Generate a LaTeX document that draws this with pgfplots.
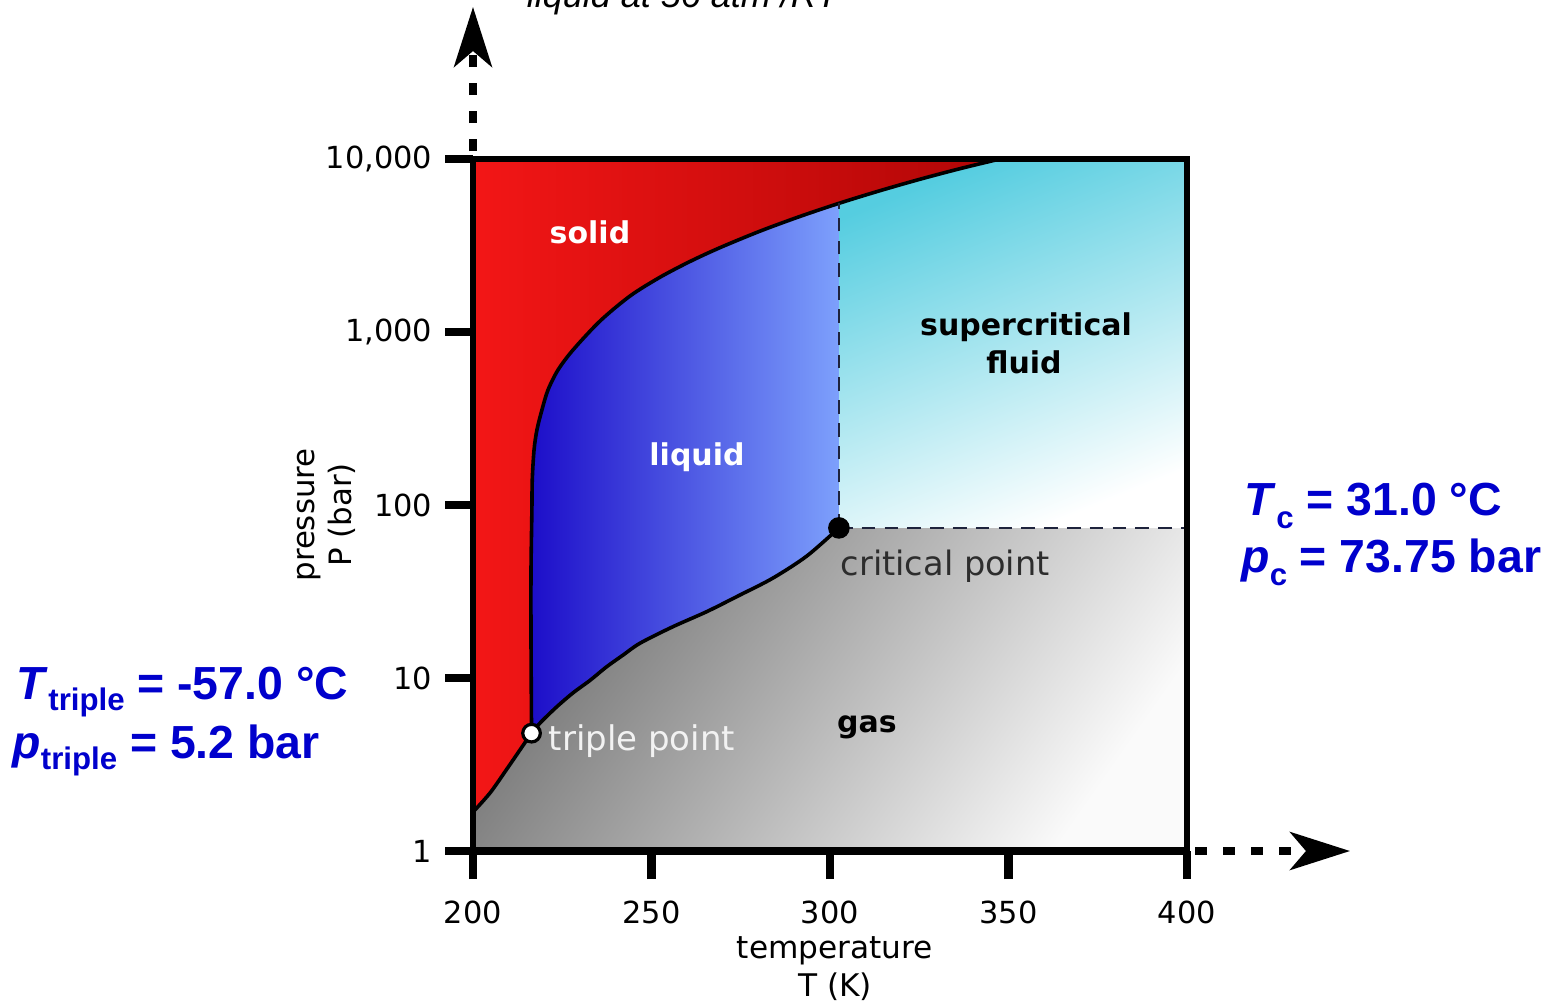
\documentclass[border=0pt]{standalone}
\usepackage{pgfplots}
\pgfplotsset{compat=1.18}
\usepackage{fontspec}
\setmainfont{DejaVu Sans}
\newfontfamily\arialfont{Liberation Sans}
\usetikzlibrary{arrows.meta}
\definecolor{solidL}{RGB}{243,22,22}
\definecolor{solidR}{RGB}{176,6,6}
\definecolor{liqL}{RGB}{26,10,200}
\definecolor{liqR}{RGB}{125,160,252}
\definecolor{scC}{RGB}{85,205,224}
\definecolor{gasD}{RGB}{115,115,115}
\definecolor{gasM}{RGB}{178,178,178}
\definecolor{gasL}{RGB}{250,250,250}
\definecolor{blueT}{RGB}{0,0,204}
\definecolor{dashC}{RGB}{30,35,60}
\definecolor{critC}{RGB}{45,45,45}
\definecolor{tripC}{RGB}{242,242,242}
\begin{document}
\begin{tikzpicture}
\path[use as bounding box] (-118.25pt,-37.5pt) rectangle (269.75pt,212.75pt);
\begin{axis}[at={(0pt,0pt)}, anchor=south west, scale only axis,
  width=178.5pt, height=173pt,
  xmin=200, xmax=400, ymode=log, ymin=1, ymax=10000,
  xtick={200,250,300,350,400}, xticklabels={200,250,300,350,400},
  ytick={1,10,100,1000,10000}, yticklabels={1,10,100,{1,000},{10,000}},
  yminorticks=false, xminorticks=false,
  tick pos=left, tick align=outside, major tick length=7pt,
  tick style={line width=2.2pt, black},
  axis line style={line width=1.3pt},
  axis on top,
  ticklabel style={font=\fontsize{7.6}{9}\selectfont, inner sep=0pt},
  xticklabel shift=5.25pt, yticklabel shift=3pt,
]
% gas
\addplot[draw=none, top color=gasD, middle color=gasM, bottom color=gasL, shading angle=55]
  coordinates {(200,1) (400,1) (400,73.75) (200,73.75)} -- cycle;
% supercritical fluid
\addplot[draw=none, top color=scC, middle color=scC!78!white, bottom color=white, shading angle=22]
  coordinates {(302.5,73.75) (400,73.75) (400,10000) (302.5,10000)} -- cycle;
% liquid
\addplot[draw=none, left color=liqL, right color=liqR]
  coordinates {(214,4.8) (216.4,4.8) (218.8,5.5) (223.4,6.8) (228.0,8.2) (232.8,9.7)
  (237.4,11.6) (242.1,13.6) (246.8,15.9) (256.0,19.8) (265.5,24.2) (274.8,30.2)
  (284.0,37.8) (293.5,50.7) (302.5,73.75) (302.5,10000) (214,10000)} -- cycle;
% solid
\addplot[draw=none, left color=solidL, right color=solidR]
  coordinates {(200,1.68) (204.8,2.15) (209.4,2.94) (214.1,4.1) (216.4,4.8)
  (216.25,16.6) (216.25,42) (216.5,94) (216.6,140) (217.1,208) (217.9,271)
  (219.3,354) (221.0,462) (223.8,603) (228.0,787) (235.6,1158) (244.0,1615)
  (252.4,2074) (260.8,2557) (269.2,3074) (280.4,3828) (291.6,4656) (302.8,5568)
  (314.0,6558) (325.2,7638) (336.4,8790) (347.6,10000) (200,10000)} -- cycle;
% boundaries
\addplot[black, line width=0.9pt, smooth]
  coordinates {(200,1.68) (204.8,2.17) (209.4,2.96) (214.1,4.1) (216.4,4.8)};
\addplot[black, line width=0.9pt, smooth]
  coordinates {(216.4,4.8) (218.8,5.5) (223.4,6.8) (228.0,8.2) (232.8,9.7)
  (237.4,11.6) (242.1,13.6) (246.8,15.9) (256.0,19.8) (265.5,24.2) (274.8,30.2)
  (284.0,37.8) (293.5,50.7) (302.5,73.75)};
\addplot[black, line width=0.9pt, smooth]
  coordinates {(216.4,4.8) (216.25,16.6) (216.25,42) (216.5,94) (216.6,140) (217.1,208)
  (217.9,271) (219.3,354) (221.0,462) (223.8,603) (228.0,787) (235.6,1158) (244.0,1615)
  (252.4,2074) (260.8,2557) (269.2,3074) (280.4,3828) (291.6,4656) (302.8,5568)
  (314.0,6558) (325.2,7638) (336.4,8790) (347.6,10000)};
% critical isotherm / isobar
\addplot[dashC, line width=0.6pt, dash pattern=on 3.4pt off 2.3pt]
  coordinates {(302.5,73.75) (302.5,5540)};
\addplot[dashC, line width=0.6pt, dash pattern=on 3.4pt off 2.3pt]
  coordinates {(302.5,73.75) (400,73.75)};
% points
\addplot[only marks, mark=*, mark size=2.5pt, black] coordinates {(302.5,73.75)};
\addplot[only marks, mark=*, mark size=2.2pt, mark options={fill=white, draw=black, line width=0.8pt}]
  coordinates {(216.4,4.8)};
\end{axis}
\draw[line width=2pt] (-0.5pt,0) -- (179pt,0);
% arrows
\draw[line width=1.8pt, dash pattern=on 3pt off 4pt, dash phase=-1pt,
  -{Stealth[length=15pt,width=9.5pt,inset=4pt]}] (0,174pt) -- (0,211pt);
\draw[line width=1.8pt, dash pattern=on 3pt off 4pt,
  -{Stealth[length=15pt,width=9.5pt,inset=4pt]}] (180.5pt,0) -- (219.25pt,0);
% region labels
\node[anchor=base, inner sep=0pt, text=white, font=\bfseries\fontsize{7.5}{9}\selectfont] at (29.25pt,152pt) {solid};
\node[anchor=base, inner sep=0pt, text=white, font=\bfseries\fontsize{7.5}{9}\selectfont] at (56pt,96.5pt) {liquid};
\node[anchor=base, inner sep=0pt, text=black, font=\bfseries\fontsize{7.5}{9}\selectfont] at (138.25pt,129pt) {supercritical};
\node[anchor=base, inner sep=0pt, text=black, font=\bfseries\fontsize{7.5}{9}\selectfont] at (137.75pt,119.5pt) {fluid};
\node[anchor=base, inner sep=0pt, text=black, font=\bfseries\fontsize{7.5}{9}\selectfont] at (98.5pt,29.75pt) {gas};
\node[anchor=base west, inner sep=0pt, text=critC, font=\fontsize{8.4}{10}\selectfont] at (91.75pt,69pt) {critical point};
\node[anchor=base west, inner sep=0pt, text=tripC, font=\fontsize{8.5}{10}\selectfont] at (18.75pt,25.25pt) {triple point};
% axis labels
\node[anchor=base, inner sep=0pt, font=\fontsize{7.8}{9}\selectfont] at (90.5pt,-26.75pt) {temperature};
\node[anchor=base, inner sep=0pt, font=\fontsize{7.8}{9}\selectfont] at (90.5pt,-36.25pt) {T (K)};
\node[rotate=90, anchor=base, inner sep=0pt, font=\fontsize{7.7}{9}\selectfont] at (-39.5pt,84pt) {pressure};
\node[rotate=90, anchor=base, inner sep=0pt, font=\fontsize{7.7}{9}\selectfont] at (-30.25pt,84pt) {P (bar)};
% annotations
\node[anchor=base west, inner sep=0pt, font=\arialfont\itshape\fontsize{9}{11}\selectfont] at (13.25pt,211pt) {liquid at 56 atm /RT};
\node[anchor=base west, inner sep=0pt, text=blueT, font=\arialfont\bfseries\fontsize{11.6}{13}\selectfont] at (192.75pt,83.9pt)
  {\textit{T}\raisebox{-3.2pt}{\fontsize{7.8}{9}\selectfont c} = 31.0 °C};
\node[anchor=base west, inner sep=0pt, text=blueT, font=\arialfont\bfseries\fontsize{11.6}{13}\selectfont] at (191.9pt,69.55pt)
  {\textit{p}\raisebox{-3.2pt}{\fontsize{7.8}{9}\selectfont c} = 73.75 bar};
\node[anchor=base west, inner sep=0pt, text=blueT, font=\arialfont\bfseries\fontsize{11.6}{13}\selectfont] at (-114.25pt,37.9pt)
  {\textit{T}\raisebox{-2.8pt}{\fontsize{7.8}{9}\selectfont triple} = -57.0 °C};
\node[anchor=base west, inner sep=0pt, text=blueT, font=\arialfont\bfseries\fontsize{11.6}{13}\selectfont] at (-115.3pt,23.2pt)
  {\textit{p}\raisebox{-2.8pt}{\fontsize{7.8}{9}\selectfont triple} = 5.2 bar};
\end{tikzpicture}
\end{document}
